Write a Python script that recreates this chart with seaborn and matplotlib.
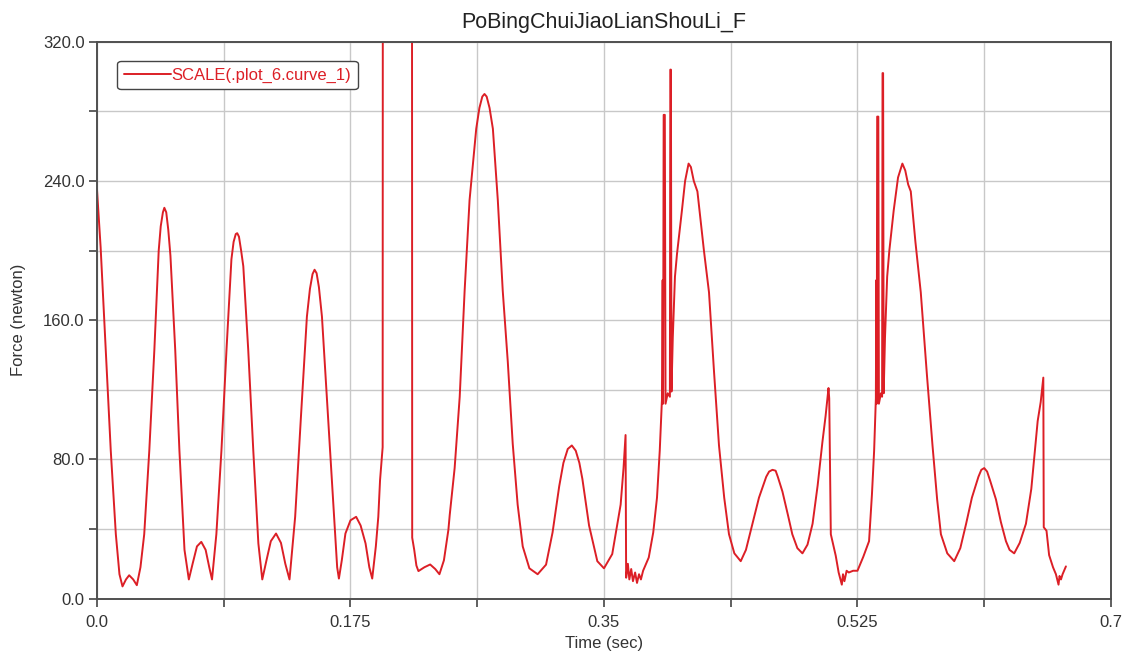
import numpy as np
import pandas as pd
import matplotlib
matplotlib.use("Agg")
import matplotlib.pyplot as plt
import seaborn as sns

# values (time in sec, force in newton)
time_sec = [
    0.0000, 0.0025, 0.0060, 0.0095, 0.0130, 0.0155, 0.0176, 0.0200, 0.0222, 0.0250,
    0.0275, 0.0300, 0.0326, 0.0361, 0.0396, 0.0426, 0.0440, 0.0455, 0.0465, 0.0478,
    0.0492, 0.0507, 0.0540, 0.0569, 0.0604, 0.0634, 0.0660, 0.0690, 0.0720, 0.0750,
    0.0775, 0.0794, 0.0824, 0.0859, 0.0894, 0.0928, 0.0943, 0.0958, 0.0968, 0.0980,
    0.0995, 0.1010, 0.1044, 0.1079, 0.1114, 0.1141, 0.1170, 0.1200, 0.1236, 0.1270,
    0.1300, 0.1329, 0.1368, 0.1408, 0.1449, 0.1470, 0.1488, 0.1502, 0.1516, 0.1532,
    0.1553, 0.1588, 0.1623, 0.1658, 0.1670, 0.1690, 0.1715, 0.1750, 0.1789, 0.1820,
    0.1854, 0.1880, 0.1900, 0.1925, 0.1942, 0.1954, 0.1972, 0.1976, 0.2172, 0.2176,
    0.2190, 0.2205, 0.2219, 0.2260, 0.2300, 0.2335, 0.2364, 0.2395, 0.2426, 0.2435,
    0.2469, 0.2504, 0.2538, 0.2572, 0.2618, 0.2640, 0.2660, 0.2675, 0.2690, 0.2710,
    0.2733, 0.2767, 0.2801, 0.2836, 0.2870, 0.2904, 0.2939, 0.2985, 0.3042, 0.3100,
    0.3145, 0.3191, 0.3220, 0.3250, 0.3278, 0.3305, 0.3330, 0.3351, 0.3397, 0.3454,
    0.3500, 0.3557, 0.3615, 0.3635, 0.3649, 0.3653, 0.3665, 0.3675, 0.3688, 0.3700,
    0.3715, 0.3728, 0.3742, 0.3755, 0.3770, 0.3809, 0.3840, 0.3866, 0.3885, 0.3900,
    0.3905, 0.3908, 0.3912, 0.3920, 0.3925, 0.3940, 0.3955, 0.3958, 0.3962, 0.3966,
    0.3975, 0.3990, 0.4004, 0.4038, 0.4060, 0.4084, 0.4100, 0.4120, 0.4145, 0.4190,
    0.4225, 0.4260, 0.4294, 0.4330, 0.4363, 0.4400, 0.4444, 0.4480, 0.4525, 0.4570,
    0.4620, 0.4640, 0.4663, 0.4685, 0.4700, 0.4732, 0.4770, 0.4800, 0.4835, 0.4870,
    0.4905, 0.4940, 0.4975, 0.5008, 0.5030, 0.5050, 0.5055, 0.5066, 0.5085, 0.5100,
    0.5120, 0.5142, 0.5150, 0.5160, 0.5175, 0.5190, 0.5220, 0.5250, 0.5290, 0.5330,
    0.5350, 0.5365, 0.5377, 0.5380, 0.5383, 0.5386, 0.5394, 0.5398, 0.5412, 0.5420,
    0.5423, 0.5427, 0.5431, 0.5440, 0.5455, 0.5470, 0.5500, 0.5530, 0.5560, 0.5580,
    0.5600, 0.5618, 0.5650, 0.5687, 0.5730, 0.5768, 0.5800, 0.5826, 0.5870, 0.5918,
    0.5960, 0.6000, 0.6040, 0.6085, 0.6105, 0.6125, 0.6145, 0.6165, 0.6206, 0.6240,
    0.6275, 0.6300, 0.6332, 0.6370, 0.6413, 0.6450, 0.6494, 0.6515, 0.6533, 0.6536,
    0.6555, 0.6573, 0.6600, 0.6620, 0.6638, 0.6645, 0.6655, 0.6666, 0.6689,
]
force_n = [
    235, 202, 143, 85, 37, 14, 7, 11, 13.4, 11,
    7.7, 18, 37, 85, 143, 200, 214, 222, 224.6, 222,
    212, 197, 143, 85, 28, 11, 20, 30, 32.6, 28,
    18, 11, 37, 85, 143, 195, 205, 209.5, 210, 208,
    200, 191, 143, 85, 31.7, 11, 22, 33, 37.4, 32,
    20, 11, 47, 104.6, 162, 178, 186.5, 189, 187, 179,
    162, 114, 66, 18, 11.5, 22, 37.4, 45, 47, 42,
    31.7, 18, 11.5, 30, 47, 68, 87, 1000, 1000, 35,
    28, 19, 15.8, 18, 19.6, 17, 14, 22, 39.6, 48,
    75, 116, 177, 229, 270, 282, 288.5, 290, 288.5, 282,
    270, 229, 177, 136, 89, 54, 30, 17.4, 14, 19.5,
    38, 64.6, 78, 86, 88, 85, 78, 68.7, 42, 21.5,
    17.4, 25.6, 54, 75, 94, 12, 20, 11, 17, 10,
    15, 9, 14, 11, 16, 23.6, 38, 58, 85, 114,
    183, 112, 278, 278, 112, 118, 116, 304, 304, 119,
    150, 185, 198, 223, 240, 250, 248, 240, 234, 200,
    176, 130, 88, 58, 37, 26, 21.5, 28, 43, 58,
    70, 73, 74, 73.5, 70, 61.5, 48, 37, 29, 26,
    31, 43, 65, 90, 105, 121, 115, 37, 30, 24.6,
    15, 8, 14, 10, 16, 15, 16, 16, 24, 33,
    60, 85, 115, 183, 112, 277, 277, 112, 118, 116,
    302, 302, 118, 150, 185, 200, 223, 242, 250, 246,
    238, 234, 205, 176, 128, 88, 57, 37, 26, 21.5,
    29, 43, 58, 70, 74, 75, 73, 68, 57, 44,
    33, 28, 26, 32, 43, 63, 102, 113, 127, 41,
    39, 25, 18, 14, 8, 13, 11, 14, 18.5,
]

x_major = [0.0, 0.175, 0.35, 0.525, 0.7]
x_major_labels = ["0.0", "0.175", "0.35", "0.525", "0.7"]
y_major = [0, 80, 160, 240, 320]
y_major_labels = ["0.0", "80.0", "160.0", "240.0", "320.0"]

df = pd.DataFrame({"time": time_sec, "force": force_n})

sns.set_theme(style="white")
plt.rcParams["font.family"] = ["Liberation Sans", "DejaVu Sans"]

text_col = "#333333"
red = "#dc1f26"

fig = plt.figure(figsize=(11.24, 6.57), dpi=100)
ax = fig.add_axes([0.0863, 0.0889, 0.9021, 0.8475])

sns.lineplot(data=df, x="time", y="force", ax=ax, color=red, linewidth=1.4,
             sort=False, estimator=None, label="SCALE(.plot_6.curve_1)")

ax.set_xlim(0, 0.7)
ax.set_ylim(0, 320)

ax.set_xticks(x_major)
ax.set_xticklabels(x_major_labels)
ax.set_xticks([0.0875, 0.2625, 0.4375, 0.6125], minor=True)
ax.set_yticks(y_major)
ax.set_yticklabels(y_major_labels)
ax.set_yticks([40, 120, 200, 280], minor=True)

ax.grid(True, which="both", color="#c8c8c8", linewidth=1.0)
ax.set_axisbelow(True)

ax.tick_params(which="both", direction="out", length=6, width=1.2,
               color="#444444", labelsize=12, labelcolor=text_col,
               bottom=True, left=True)
ax.tick_params(axis="x", pad=6)
ax.tick_params(axis="y", pad=3)

for sp in ax.spines.values():
    sp.set_color("#505050")
    sp.set_linewidth(1.4)

ax.set_title("PoBingChuiJiaoLianShouLi_F", fontsize=15.5, color="#222222", pad=10)
ax.set_xlabel("Time (sec)", fontsize=12, color=text_col)
ax.set_ylabel("Force (newton)", fontsize=12, color=text_col)
ax.xaxis.set_label_coords(0.5, -0.068)
ax.yaxis.set_label_coords(-0.070, 0.5)

leg = ax.legend(loc="upper left", bbox_to_anchor=(0.015, 0.975), fontsize=12,
                labelcolor=red, frameon=True, fancybox=True, framealpha=1,
                edgecolor="#444444", handlelength=2.8, handletextpad=0.05,
                borderpad=0.4, borderaxespad=0.3)
leg.get_frame().set_linewidth(1.0)

fig.savefig("out.png", dpi=100)
